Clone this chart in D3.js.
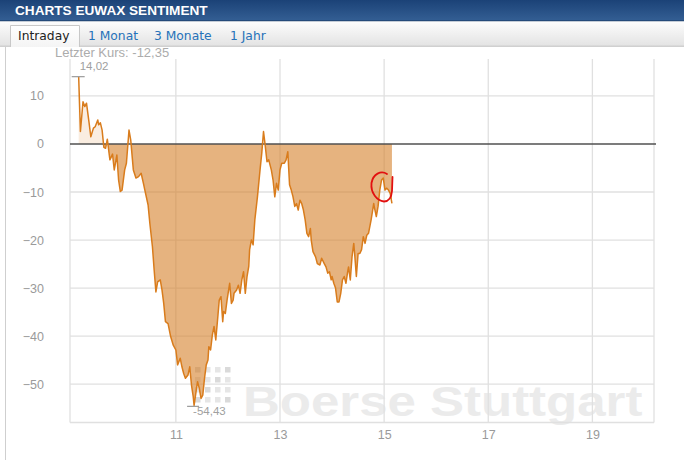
<!DOCTYPE html>
<html><head><meta charset="utf-8">
<script src="https://cdn.jsdelivr.net/npm/d3@7"></script>
<style>
html,body{margin:0;padding:0;background:#fff;}
svg{display:block;}
</style></head>
<body>
<svg id="chart" width="684" height="460"></svg>
<script>
const title = "CHARTS EUWAX SENTIMENT";
const tabs = ["Intraday", "1 Monat", "3 Monate", "1 Jahr"];
const lastLabel = "Letzter Kurs: -12,35";
const maxLabel = "14,02", minLabel = "-54,43";
const maxValue = 14.02, minValue = -54.43;
const xDomain = ["08:58", "20:11"];
const yDomain = [-58, 17.7];
const xTickHours = [11, 13, 15, 17, 19];
const yTicks = [-50, -40, -30, -20, -10, 0, 10];

const times = ["09:08","09:10","09:13","09:15","09:17","09:20","09:22","09:25","09:27","09:30","09:31","09:33","09:35","09:37","09:39","09:41","09:44","09:47","09:49","09:52","09:54","09:56","09:58","10:01","10:03","10:06","10:08","10:11","10:14","10:17","10:20","10:23","10:24","10:28","10:30","10:33","10:35","10:37","10:39","10:42","10:44","10:46","10:48","10:51","10:54","10:57","11:00","11:02","11:05","11:07","11:09","11:11","11:14","11:16","11:18","11:20","11:21","11:23","11:25","11:27","11:29","11:31","11:33","11:35","11:37","11:38","11:40","11:42","11:44","11:46","11:48","11:50","11:52","11:54","11:55","11:57","11:59","12:02","12:04","12:06","12:07","12:10","12:12","12:14","12:16","12:18","12:20","12:22","12:24","12:25","12:27","12:29","12:31","12:34","12:37","12:39","12:41","12:43","12:45","12:47","12:50","12:52","12:54","12:56","12:58","13:00","13:02","13:05","13:07","13:09","13:11","13:13","13:15","13:17","13:19","13:21","13:23","13:25","13:27","13:29","13:31","13:33","13:35","13:36","13:38","13:41","13:43","13:46","13:48","13:51","13:53","13:55","13:57","13:59","14:00","14:02","14:04","14:06","14:08","14:10","14:12","14:14","14:16","14:18","14:19","14:21","14:23","14:25","14:26","14:28","14:30","14:32","14:34","14:36","14:38","14:40","14:42","14:45","14:48","14:49","14:51","14:53","14:55","14:57","14:59","15:01","15:03","15:05","15:07","15:09"];
const values = [14.02,2.6,8.8,7.8,8.5,4.4,1.5,3.3,3.6,5,4,4.4,2.9,-0.7,-0.9,1,-3.3,-2.1,-5.4,-2.3,-7.5,-9.9,-9.6,-5.4,-4,2.9,0.8,-5.4,-7.1,-6.8,-6.1,-8.5,-9.4,-12.7,-16.5,-21.4,-26.3,-30.8,-28.7,-28.3,-30.4,-33.2,-37,-37.4,-40.1,-41.9,-42.9,-46,-44.6,-46.4,-47.8,-48.8,-48.1,-46.4,-50.2,-52.6,-54.43,-51.9,-49.5,-50.9,-53,-52.3,-48.8,-46,-45,-42.2,-42.9,-39.8,-38,-40.8,-36.7,-32.5,-31.8,-37,-34.9,-35.3,-32.5,-29,-33.2,-32.5,-31.1,-30.4,-29.4,-31.1,-28.3,-26.6,-31.1,-27.6,-25.5,-22,-20,-21,-15.8,-11,-5.4,-1.9,2.6,-0.4,-3.7,-3.3,-5.4,-7.5,-11,-8.2,-9.6,-5.4,-4,-4,-3.3,-1.6,-8.5,-9.6,-11,-13,-12.4,-13.75,-11.7,-12.4,-13.75,-15.8,-18.6,-19.3,-17.6,-20,-22.4,-23.5,-24.9,-25.2,-23.8,-24.9,-25.6,-26.9,-26.6,-28.3,-27.6,-29,-30,-32.9,-32.9,-31.1,-28.3,-27.6,-29,-26.6,-25.6,-28.3,-23.5,-20.7,-22.8,-27.6,-22.8,-22.8,-22,-19.3,-20.7,-19,-18.6,-15.8,-12.4,-13.4,-15.1,-13,-9.6,-7.5,-7.1,-9.6,-9.2,-9.6,-10.3,-12.35];

const parse = d3.timeParse("%H:%M");
const data = times.map((t, i) => ({t: parse(t), v: values[i]}));

const svg = d3.select("#chart");
const W = 684, H = 460;
const plot = {left: 70, right: 654, top: 59, bottom: 422.5};

// ---- header
const defs = svg.append("defs");
const g1 = defs.append("linearGradient").attr("id","hdr").attr("x1",0).attr("y1",0).attr("x2",0).attr("y2",1);
g1.append("stop").attr("offset","0%").attr("stop-color","#1b4277");
g1.append("stop").attr("offset","100%").attr("stop-color","#345f94");
const g2 = defs.append("linearGradient").attr("id","tabbar").attr("x1",0).attr("y1",0).attr("x2",0).attr("y2",1);
g2.append("stop").attr("offset","0%").attr("stop-color","#fdfdfd");
g2.append("stop").attr("offset","100%").attr("stop-color","#e3e3e3");
const g3 = defs.append("linearGradient").attr("id","acttab").attr("x1",0).attr("y1",0).attr("x2",0).attr("y2",1);
g3.append("stop").attr("offset","0%").attr("stop-color","#ffffff");
g3.append("stop").attr("offset","100%").attr("stop-color","#f4f4f4");

svg.append("rect").attr("x",0).attr("y",0).attr("width",W).attr("height",21).attr("fill","url(#hdr)");
svg.append("rect").attr("x",0).attr("y",20.5).attr("width",W).attr("height",1).attr("fill","#163761");
svg.append("text").attr("x",15).attr("y",14.5).text(title)
  .attr("font-family","'Liberation Sans', Arial, sans-serif").attr("font-weight","bold")
  .attr("font-size",13.6).attr("fill","#ffffff");

svg.append("rect").attr("x",0).attr("y",21.5).attr("width",W).attr("height",24.5).attr("fill","url(#tabbar)");
svg.append("rect").attr("x",0).attr("y",45.5).attr("width",W).attr("height",1.5).attr("fill","#d0d0d0");

// active tab
svg.append("path").attr("d","M10.5,47 L10.5,25.5 L79.5,25.5 L79.5,47")
  .attr("fill","url(#acttab)").attr("stroke","#c8c8c8").attr("stroke-width",1);
const tabX = [18, 88, 154, 230];
svg.selectAll("text.tab").data(tabs).join("text").attr("class","tab")
  .attr("x",(d,i)=>tabX[i]).attr("y",40)
  .attr("font-family","'DejaVu Sans', Verdana, sans-serif").attr("font-size",12.3)
  .attr("fill",(d,i)=> i===0 ? "#222" : "#2672b9").text(d=>d);

// left page border
svg.append("line").attr("x1",5.5).attr("x2",5.5).attr("y1",47).attr("y2",H).attr("stroke","#cfcfcf");

svg.append("text").attr("x",55).attr("y",56.5).text(lastLabel)
  .attr("font-family","'Liberation Sans', Arial, sans-serif").attr("font-size",13).attr("fill","#acacac");

// ---- scales
const x = d3.scaleTime().domain(xDomain.map(parse)).range([plot.left, plot.right]);
const y = d3.scaleLinear().domain(yDomain).range([plot.bottom, plot.top]);
const hourDate = h => { const d = parse("00:00"); d.setHours(h); return d; };

// ---- watermark (behind data)
const wm = svg.append("g");
const dotCols = [195, 205, 215, 225], dotRows = [367, 377, 387, 397];
dotRows.forEach((ry, ri) => dotCols.forEach((cx, ci) => {
  wm.append("rect").attr("x",cx).attr("y",ry).attr("width",5.5).attr("height",5.5)
    .attr("fill", (ri+ci)%3===0 ? "#dadada" : "#e6e6e6");
}));
wm.append("text").attr("x",0).attr("y",0).text("Boerse Stuttgart")
  .attr("transform","translate(243,415.5) scale(1,0.84)")
  .attr("font-family","'Liberation Sans', Arial, sans-serif").attr("font-weight","bold")
  .attr("font-size",51).attr("fill","#ebebeb");

// ---- grid
const grid = svg.append("g").attr("stroke","#e0e0e0").attr("stroke-width",1.3);
grid.selectAll("line.v").data(xTickHours).join("line").attr("class","v")
  .attr("x1",d=>x(hourDate(d))).attr("x2",d=>x(hourDate(d)))
  .attr("y1",plot.top).attr("y2",plot.bottom);
grid.selectAll("line.h").data(yTicks.filter(d=>d!==0)).join("line").attr("class","h")
  .attr("x1",plot.left).attr("x2",plot.right).attr("y1",d=>y(d)).attr("y2",d=>y(d));
grid.append("line").attr("x1",plot.left).attr("x2",plot.left).attr("y1",plot.top).attr("y2",plot.bottom);
grid.append("line").attr("x1",plot.right).attr("x2",plot.right).attr("y1",plot.top).attr("y2",plot.bottom);
grid.append("line").attr("x1",plot.left).attr("x2",plot.right).attr("y1",plot.bottom).attr("y2",plot.bottom);

// ---- axes labels (via d3 axes)
const yAxis = d3.axisLeft(y).tickValues(yTicks).tickSize(0).tickPadding(0);
const ya = svg.append("g").attr("transform",`translate(44,0)`).call(yAxis);
ya.select(".domain").remove();
ya.selectAll("text").attr("fill","#9a9a9a").attr("font-size",12.5)
  .attr("font-family","'Liberation Sans', Arial, sans-serif");

const xAxis = d3.axisBottom(x).tickValues(xTickHours.map(hourDate)).tickFormat(d3.timeFormat("%-H")).tickSize(0).tickPadding(0);
const xa = svg.append("g").attr("transform",`translate(0,430)`).call(xAxis);
xa.select(".domain").remove();
xa.selectAll("text").attr("fill","#9a9a9a").attr("font-size",12.5)
  .attr("font-family","'Liberation Sans', Arial, sans-serif");

// ---- area
defs.append("clipPath").attr("id","above").append("rect")
  .attr("x",0).attr("y",0).attr("width",W).attr("height",y(0));
defs.append("clipPath").attr("id","below").append("rect")
  .attr("x",0).attr("y",y(0)).attr("width",W).attr("height",H-y(0));
const area = d3.area().x(d=>x(d.t)).y0(y(0)).y1(d=>y(d.v));
svg.append("path").datum(data).attr("d",area).attr("clip-path","url(#above)")
  .attr("fill","rgba(222,140,60,0.16)");
svg.append("path").datum(data).attr("d",area).attr("clip-path","url(#below)")
  .attr("fill","rgba(214,128,42,0.6)");

// zero line
svg.append("line").attr("x1",plot.left).attr("x2",plot.right+2).attr("y1",y(0)).attr("y2",y(0))
  .attr("stroke","#505050").attr("stroke-width",1.6);

// line
const line = d3.line().x(d=>x(d.t)).y(d=>y(d.v));
svg.append("path").datum(data).attr("d",line).attr("fill","none")
  .attr("stroke","#d97c1c").attr("stroke-width",1.5).attr("stroke-linejoin","round");

// max / min markers
const maxPt = data.find(d=>d.v===maxValue), minPt = data.find(d=>d.v===minValue);
svg.append("line").attr("x1",x(maxPt.t)-7).attr("x2",x(maxPt.t)+6).attr("y1",y(maxValue)).attr("y2",y(maxValue))
  .attr("stroke","#9a9a9a").attr("stroke-width",1.2);
svg.append("text").attr("x",x(maxPt.t)+1).attr("y",y(maxValue)-7).text(maxLabel)
  .attr("font-family","'Liberation Sans', Arial, sans-serif").attr("font-size",11.5).attr("fill","#a0a0a0");
svg.append("line").attr("x1",x(minPt.t)-7).attr("x2",x(minPt.t)+5).attr("y1",y(minValue)+1).attr("y2",y(minValue)+1)
  .attr("stroke","#9a9a9a").attr("stroke-width",1.2);
svg.append("text").attr("x",x(minPt.t)-1).attr("y",y(minValue)+10).text(minLabel)
  .attr("font-family","'Liberation Sans', Arial, sans-serif").attr("font-size",11.5).attr("fill","#a0a0a0");

// hand-drawn red annotation
svg.append("path")
  .attr("d","M387,174 C381,170 373,174 371.5,183 C370.5,193 377,201 384,201.5 C389,201.5 391.5,197 392,191 L392.5,177")
  .attr("fill","none").attr("stroke","#e21010").attr("stroke-width",1.8).attr("stroke-linecap","round");
</script>
</body></html>
